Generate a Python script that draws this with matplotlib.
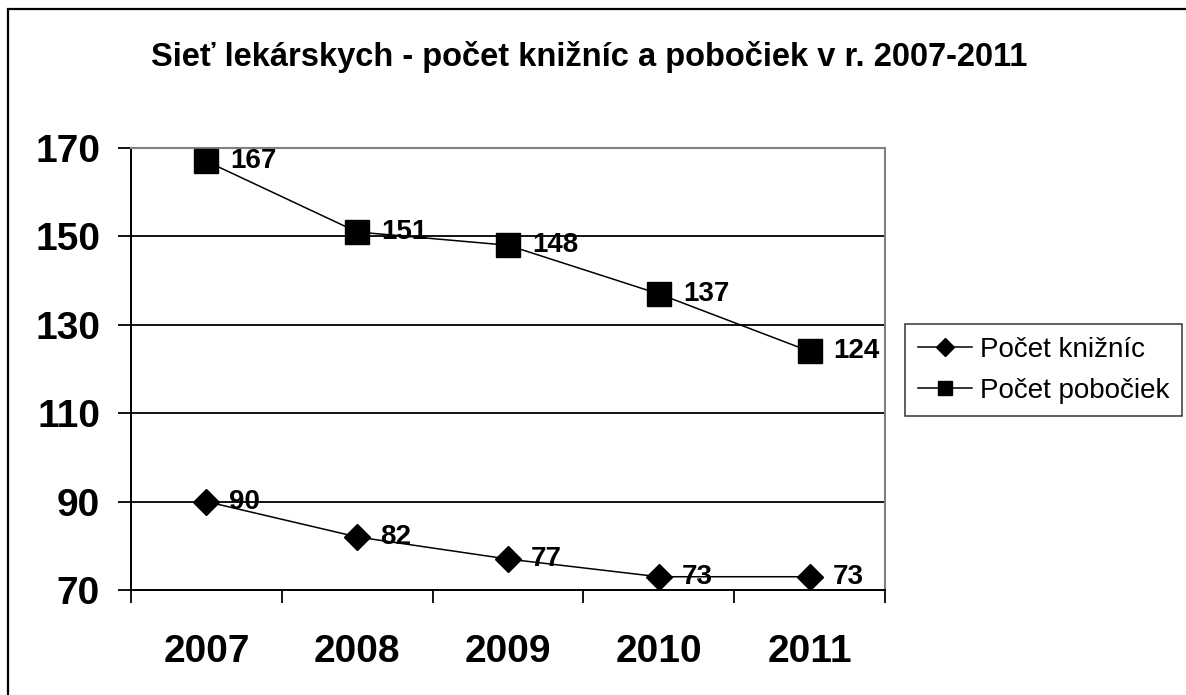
import matplotlib

matplotlib.use("Agg")
import matplotlib.pyplot as plt
from matplotlib.lines import Line2D
from matplotlib.patches import Rectangle

plt.rcParams["font.family"] = ["Liberation Sans", "DejaVu Sans"]

W, H = 1186, 695

years = ["2007", "2008", "2009", "2010", "2011"]
kniznice = [90, 82, 77, 73, 73]
pobocky = [167, 151, 148, 137, 124]
y_ticks = [70, 90, 110, 130, 150, 170]
title = "Sieť lekárskych - počet knižníc a pobočiek v r. 2007-2011"
labels = ["Počet knižníc", "Počet pobočiek"]


def px(v):
    # pixels -> points
    return v * 72 / 100


fig = plt.figure(figsize=(W / 100, H / 100), dpi=100)
fig.patch.set_facecolor("white")
ax = fig.add_axes([131 / W, 1 - 590 / H, (885 - 131) / W, (590 - 148) / H])

x = list(range(len(years)))
ax.set_xlim(-0.5, len(years) - 0.5)
ax.set_ylim(y_ticks[0], y_ticks[-1])

# inner gridlines (ends coincide with the frame)
ax.hlines(y_ticks[1:-1], -0.5, len(years) - 0.5, colors="black", lw=1.3, zorder=1)

ax.plot(x, kniznice, color="black", lw=1.1, marker="D", ms=13.5, zorder=3)
ax.plot(x, pobocky, color="black", lw=1.1, marker="s", ms=17, zorder=3)

for xi, v in zip(x, kniznice):
    ax.annotate(str(v), (xi, v), xytext=(px(23), 0), textcoords="offset points",
                ha="left", va="center", fontsize=20, fontweight="bold", zorder=4)
for xi, v in zip(x, pobocky):
    ax.annotate(str(v), (xi, v), xytext=(px(24), 0), textcoords="offset points",
                ha="left", va="center", fontsize=20, fontweight="bold", zorder=4)

ax.set_yticks(y_ticks)
ax.set_yticklabels([str(t) for t in y_ticks], fontsize=28, fontweight="bold")
ax.tick_params(axis="y", length=px(13), width=1.3, direction="out", pad=px(18))

ax.set_xticks(x)
ax.set_xticklabels(years, fontsize=28, fontweight="bold")
ax.set_xticks([i - 0.5 for i in range(len(years) + 1)], minor=True)
ax.tick_params(axis="x", which="major", length=0, pad=px(44))
ax.tick_params(axis="x", which="minor", length=px(13), width=1.3, direction="out")

for s in ["left", "bottom"]:
    ax.spines[s].set_color("black")
    ax.spines[s].set_linewidth(1.4)
for s in ["top", "right"]:
    ax.spines[s].set_color("#808080")
    ax.spines[s].set_linewidth(1.5)

fig.text(589 / W, 1 - 57 / H, title, ha="center", va="center",
         fontsize=23.5, fontweight="bold")

# outer chart border (right/bottom edges lie outside the picture)
fig.add_artist(Rectangle((8 / W, -0.1), 1.2, 1 - 9 / H + 0.1, transform=fig.transFigure,
                         fill=False, lw=1.6, edgecolor="black", clip_on=False))

handles = [
    Line2D([], [], color="black", lw=1.1, marker="D", ms=9.5),
    Line2D([], [], color="black", lw=1.1, marker="s", ms=10),
]
leg = fig.legend(handles, labels, loc="upper left",
                 bbox_to_anchor=(905 / W, 1 - 324 / H), fontsize=20,
                 frameon=True, fancybox=False, edgecolor="black",
                 handlelength=1.95, handletextpad=0.3, borderpad=0.45,
                 labelspacing=0.55, borderaxespad=0)
leg.get_frame().set_linewidth(1.1)

fig.savefig("out.png", dpi=100, facecolor="white")
